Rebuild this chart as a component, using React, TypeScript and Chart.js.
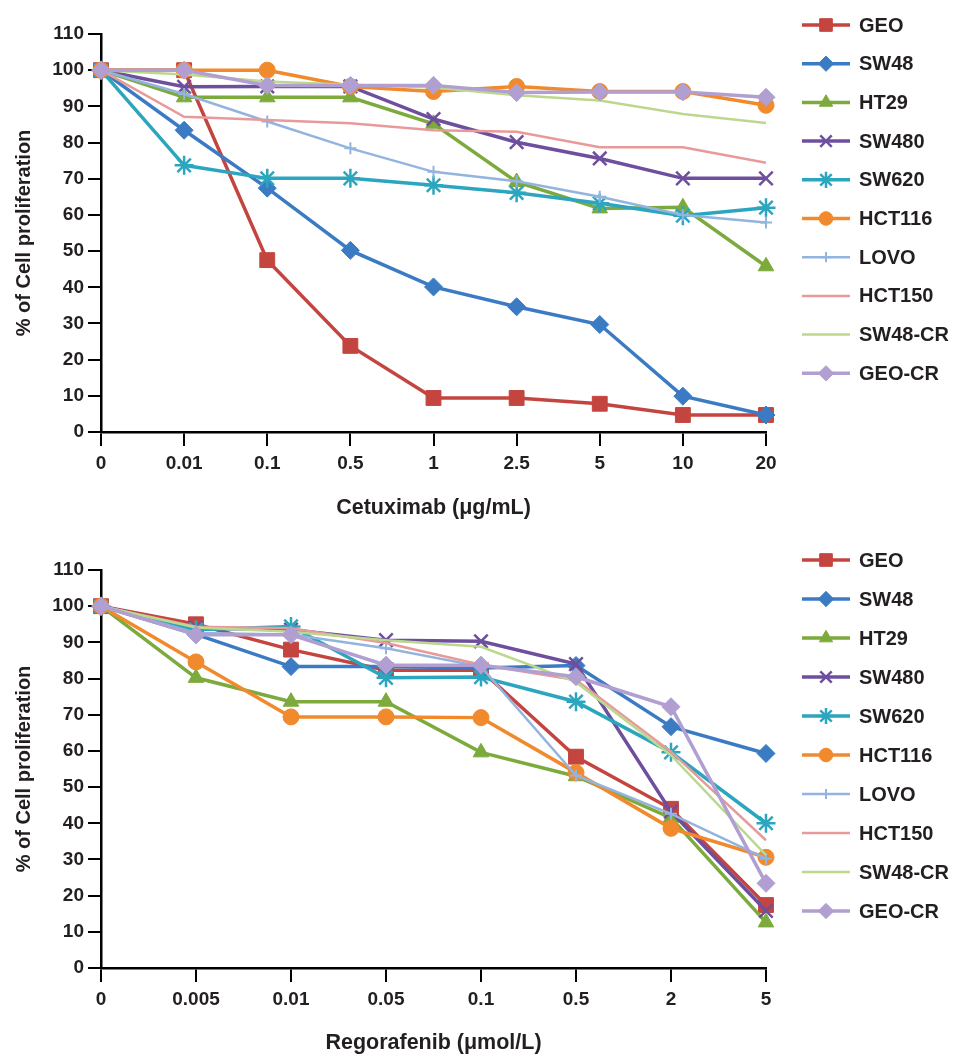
import React, { useEffect, useRef } from 'react';
import { Chart, registerables } from 'chart.js';
import { drawPoint } from 'chart.js/helpers';

Chart.register(...registerables);

// ---------- data ----------
const seriesNames = ['GEO', 'SW48', 'HT29', 'SW480', 'SW620', 'HCT116', 'LOVO', 'HCT150', 'SW48-CR', 'GEO-CR'];

const cetuximabDoses = ['0', '0.01', '0.1', '0.5', '1', '2.5', '5', '10', '20'];
const cetGEO = [100, 100, 47.5, 23.8, 9.4, 9.4, 7.8, 4.7, 4.7];
const cetSW48 = [100, 83.4, 67.4, 50.2, 40.1, 34.6, 29.7, 9.9, 4.7];
const cetHT29 = [100, 92.5, 92.5, 92.5, 85.2, 69.1, 61.8, 62.1, 45.8];
const cetSW480 = [100, 95.4, 95.5, 95.5, 86.5, 80.1, 75.6, 70.1, 70.1];
const cetSW620 = [100, 73.7, 70.1, 70.1, 68.2, 66.1, 63.2, 59.8, 62.0];
const cetHCT116 = [100, 100, 100, 95.5, 94.1, 95.5, 94.1, 94.1, 90.3];
const cetLOVO = [100, 93.4, 85.8, 78.4, 71.9, 69.3, 65.0, 60.0, 57.9];
const cetHCT150 = [100, 87.1, 86.2, 85.3, 83.4, 83.0, 78.7, 78.7, 74.4];
const cetSW48CR = [100, 98.8, 96.9, 96.0, 95.2, 93.1, 91.6, 87.9, 85.4];
const cetGEOCR = [100, 100, 95.8, 95.8, 95.8, 93.8, 94.0, 94.0, 92.5];

const regorafenibDoses = ['0', '0.005', '0.01', '0.05', '0.1', '0.5', '2', '5'];
const regGEO = [100, 95.0, 88.0, 82.3, 82.3, 58.4, 44.0, 17.4];
const regSW48 = [100, 92.2, 83.3, 83.3, 82.9, 83.6, 66.7, 59.3];
const regHT29 = [100, 80.2, 73.6, 73.6, 59.6, 53.0, 41.5, 12.6];
const regSW480 = [100, 94.0, 93.5, 90.6, 90.3, 84.0, 43.2, 15.8];
const regSW620 = [100, 93.5, 94.4, 80.2, 80.4, 73.6, 59.6, 40.0];
const regHCT116 = [100, 84.6, 69.4, 69.4, 69.2, 54.0, 38.6, 30.6];
const regLOVO = [100, 92.6, 92.2, 88.4, 83.3, 53.2, 42.6, 30.2];
const regHCT150 = [100, 94.3, 93.9, 89.8, 83.8, 79.6, 59.8, 35.3];
const regSW48CR = [100, 94.1, 92.9, 90.6, 88.8, 79.0, 58.8, 31.2];
const regGEOCR = [100, 92.1, 92.1, 83.7, 83.7, 80.5, 72.2, 23.4];

const cetValues = [cetGEO, cetSW48, cetHT29, cetSW480, cetSW620, cetHCT116, cetLOVO, cetHCT150, cetSW48CR, cetGEOCR];
const regValues = [regGEO, regSW48, regHT29, regSW480, regSW620, regHCT116, regLOVO, regHCT150, regSW48CR, regGEOCR];

const yAxisTitle = '% of Cell proliferation';
const cetTitle = 'Cetuximab (\u03bcg/mL)';
const regTitle = 'Regorafenib (\u03bcmol/L)';

// ---------- styles ----------
const seriesColors = ['#C4453F', '#3B7BC4', '#7DAA3C', '#6E4F9E', '#2CA6BF', '#F08A2C', '#93B4DF', '#E89A9A', '#BCD88F', '#B09FD0'];
const seriesMarkers: any[] = ['rect', 'rectRot', 'triangle', 'crossRot', 'star', 'circle', 'cross', false, false, 'rectRot'];
const seriesRadius = [10.5, 9, 9, 9.5, 9.5, 8, 6, 0, 0, 9];
const seriesLineWidth = [3.5, 3.5, 3.5, 3.5, 3.5, 3.5, 2.5, 2.5, 2.5, 3.5];
const seriesMarkerBorder = [1, 1, 1, 2.5, 2.5, 1, 2, 0, 0, 1];

const FONT = "'Liberation Sans', Arial, Helvetica, sans-serif";
const TEXT = '#231F20';

const legendPlugin = {
  id: 'lineLegend',
  afterDraw(chart: any, _args: any, opts: any) {
    const ctx = chart.ctx;
    ctx.save();
    seriesNames.forEach((name, i) => {
      const y = opts.startY + i * opts.spacing;
      ctx.strokeStyle = seriesColors[i];
      ctx.fillStyle = seriesColors[i];
      ctx.lineWidth = seriesLineWidth[i];
      ctx.lineCap = 'butt';
      ctx.beginPath();
      ctx.moveTo(802, y);
      ctx.lineTo(850, y);
      ctx.stroke();
      if (seriesMarkers[i]) {
        ctx.lineWidth = seriesMarkerBorder[i];
        drawPoint(ctx, { pointStyle: seriesMarkers[i], radius: seriesRadius[i] * 0.85, rotation: 0, borderWidth: seriesMarkerBorder[i] } as any, 826, y);
      }
      ctx.fillStyle = TEXT;
      ctx.font = `bold 20px ${FONT}`;
      ctx.textAlign = 'left';
      ctx.textBaseline = 'middle';
      ctx.fillText(name, 859, y + 1);
    });
    ctx.restore();
  },
};

function makeConfig(labels: string[], values: number[][], xTitle: string, cfg: any) {
  return {
    type: 'line' as const,
    data: {
      labels,
      datasets: seriesNames.map((name, i) => ({
        label: name,
        data: values[i],
        borderColor: seriesColors[i],
        backgroundColor: seriesColors[i],
        borderWidth: seriesLineWidth[i],
        pointStyle: seriesMarkers[i],
        pointRadius: seriesRadius[i],
        pointBorderWidth: seriesMarkerBorder[i],
        pointBackgroundColor: seriesColors[i],
        pointBorderColor: seriesColors[i],
        tension: 0,
        clip: false as any,
        order: seriesNames.length - i,
      })),
    },
    options: {
      responsive: false,
      animation: false as const,
      devicePixelRatio: 1,
      layout: { padding: { left: 0, right: 192, top: cfg.top, bottom: 0 } },
      plugins: {
        legend: { display: false },
        tooltip: { enabled: false },
        lineLegend: { startY: cfg.legendStart, spacing: cfg.legendSpacing },
      },
      scales: {
        x: {
          type: 'category' as const,
          offset: false,
          afterFit: (s: any) => { s.height = cfg.xHeight; },
          border: { display: true, color: '#000', width: 2.5 },
          grid: { display: true, drawOnChartArea: false, drawTicks: true, tickLength: 14, color: '#000', lineWidth: 2 },
          ticks: { color: TEXT, font: { family: FONT, size: 19, weight: 'bold' as const }, padding: 6, maxRotation: 0, autoSkip: false },
          title: { display: true, text: xTitle, color: TEXT, font: { family: FONT, size: 21.5, weight: 'bold' as const }, padding: { top: 0, bottom: cfg.titlePad } },
        },
        y: {
          min: 0,
          max: 110,
          afterFit: (s: any) => { s.width = 101; },
          border: { display: true, color: '#000', width: 2.5 },
          grid: { display: true, drawOnChartArea: false, drawTicks: true, tickLength: 13, color: '#000', lineWidth: 2 },
          ticks: { stepSize: 10, color: TEXT, font: { family: FONT, size: 19, weight: 'bold' as const }, padding: 4 },
          title: { display: true, text: yAxisTitle, color: TEXT, font: { family: FONT, size: 20, weight: 'bold' as const }, padding: { top: 12, bottom: 0 } },
        },
      },
    },
    plugins: [legendPlugin],
  };
}

function LineChart({ labels, values, xTitle, cfg }: any) {
  const ref = useRef<HTMLCanvasElement | null>(null);
  useEffect(() => {
    if (!ref.current) return;
    const chart = new Chart(ref.current, makeConfig(labels, values, xTitle, cfg) as any);
    return () => chart.destroy();
  }, []);
  return <canvas ref={ref} width={958} height={528} style={{ display: 'block', width: 958, height: 528 }} />;
}

export default function App() {
  return (
    <div style={{ position: 'absolute', left: 0, top: 0, width: 958, height: 1056, background: '#fff' }}>
      <LineChart labels={cetuximabDoses} values={cetValues} xTitle={cetTitle}
        cfg={{ top: 34, xHeight: 96, titlePad: 7, legendStart: 25, legendSpacing: 38.7 }} />
      <LineChart labels={regorafenibDoses} values={regValues} xTitle={regTitle}
        cfg={{ top: 42, xHeight: 88, titlePad: 0, legendStart: 32, legendSpacing: 39 }} />
    </div>
  );
}
